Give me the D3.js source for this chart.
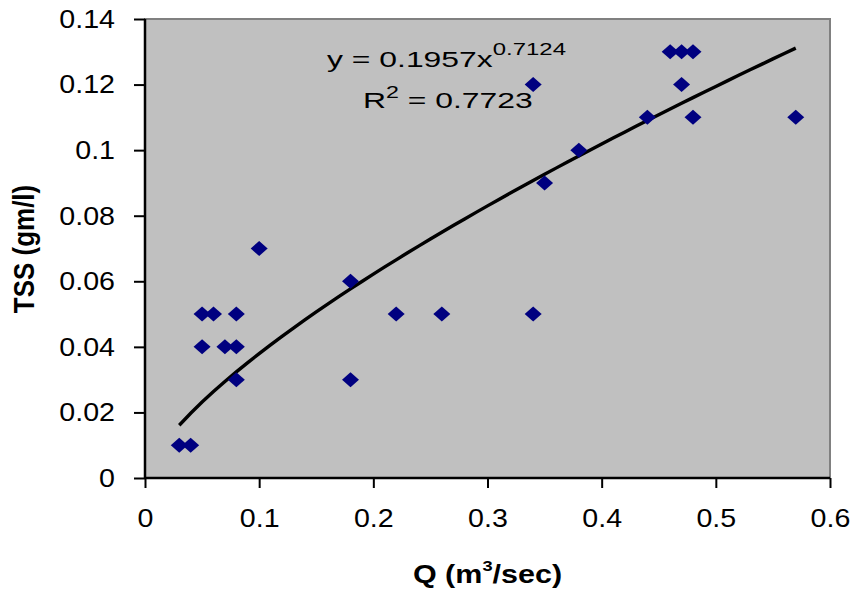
<!DOCTYPE html>
<html>
<head>
<meta charset="utf-8">
<script src="https://cdn.jsdelivr.net/npm/d3@7"></script>
<style>
  body { margin: 0; background: #ffffff; }
  text { font-family: "Liberation Sans", Arial, sans-serif; }
</style>
</head>
<body>
<div id="chart"></div>
<script>
// data
var qValues = [0.03, 0.04, 0.05, 0.06, 0.08, 0.05, 0.07, 0.08, 0.08, 0.10, 0.18, 0.18, 0.22, 0.26,
               0.34, 0.34, 0.35, 0.38, 0.44, 0.46, 0.47, 0.48, 0.47, 0.48, 0.57];
var tssValues = [0.01, 0.01, 0.05, 0.05, 0.05, 0.04, 0.04, 0.04, 0.03, 0.07, 0.06, 0.03, 0.05, 0.05,
                 0.05, 0.12, 0.09, 0.10, 0.11, 0.13, 0.13, 0.13, 0.12, 0.11, 0.11];
var xTicks = [0, 0.1, 0.2, 0.3, 0.4, 0.5, 0.6];
var yTicks = [0, 0.02, 0.04, 0.06, 0.08, 0.1, 0.12, 0.14];

// power trendline from the chart: y = a * x^b
var trendA = 0.1957;
var trendB = 0.7124;
var trendR2 = "0.7723";

var svgWidth = 856;
var svgHeight = 590;
var margin = { top: 19, right: 26, bottom: 112, left: 145 };
var width = svgWidth - margin.left - margin.right;
var height = svgHeight - margin.top - margin.bottom;

// the source picture is a little wide, so text gets stretched sideways
var stretch = 1.1;

var svg = d3.select("#chart")
  .append("svg")
  .attr("width", svgWidth)
  .attr("height", svgHeight);

var chartGroup = svg.append("g")
  .attr("transform", `translate(${margin.left}, ${margin.top})`);

var xScale = d3.scaleLinear().domain([0, 0.6]).range([0, width]);
var yScale = d3.scaleLinear().domain([0, 0.14]).range([height, 0]);

// plot area
chartGroup.append("rect")
  .attr("x", 0)
  .attr("y", 0)
  .attr("width", width)
  .attr("height", height)
  .attr("fill", "#c0c0c0")
  .attr("stroke", "#808080")
  .attr("stroke-width", 2);

// axes
var bottomAxis = d3.axisBottom(xScale)
  .tickValues(xTicks)
  .tickSize(10)
  .tickPadding(21)
  .tickFormat(d3.format("~g"));
var leftAxis = d3.axisLeft(yScale)
  .tickValues(yTicks)
  .tickSize(11)
  .tickFormat(d3.format("~g"));

var xAxis = chartGroup.append("g")
  .attr("transform", `translate(0, ${height})`)
  .call(bottomAxis);
var yAxis = chartGroup.append("g")
  .call(leftAxis);

[xAxis, yAxis].forEach(function(ax) {
  ax.attr("font-size", null).attr("font-family", null);
  ax.select(".domain").attr("stroke", "#000").attr("stroke-width", 2.5);
  ax.selectAll(".tick line").attr("stroke", "#000").attr("stroke-width", 2);
  ax.selectAll(".tick text")
    .attr("fill", "#000")
    .attr("font-size", "26px");
});
xAxis.select(".domain").attr("d", `M0,0H${width}`);
yAxis.select(".domain").attr("d", `M0,0V${height}`);

xAxis.selectAll(".tick text")
  .attr("transform", `scale(${stretch}, 1)`);
yAxis.selectAll(".tick text")
  .attr("x", 0)
  .attr("transform", `translate(-30, 0) scale(${stretch}, 1)`);

// trendline
var trendX = d3.range(0, 55).map(function(i) { return d3.min(qValues) + i * 0.01; });
var line = d3.line()
  .x(d => xScale(d))
  .y(d => yScale(trendA * Math.pow(d, trendB)));
chartGroup.append("path")
  .datum(trendX.filter(d => d <= d3.max(qValues) + 1e-9))
  .attr("d", line)
  .attr("fill", "none")
  .attr("stroke", "#000")
  .attr("stroke-width", 3.4);

// points
var points = qValues.map((q, i) => ({ q: q, tss: tssValues[i] }));
var diamond = "M0,-7.5L8.5,0L0,7.5L-8.5,0Z";
chartGroup.selectAll(".pt")
  .data(points)
  .enter()
  .append("path")
  .attr("class", "pt")
  .attr("d", diamond)
  .attr("transform", d => `translate(${xScale(d.q)}, ${yScale(d.tss)})`)
  .attr("fill", "#000080");

// equation labels
var eq = svg.append("text")
  .attr("transform", "translate(327, 67) scale(1.45, 1)")
  .attr("font-size", "22px")
  .attr("fill", "#000");
eq.append("tspan").text("y = " + trendA + "x");
eq.append("tspan").attr("dy", -12).attr("font-size", "16.5px").text(trendB);

var r2 = svg.append("text")
  .attr("transform", "translate(363, 108) scale(1.45, 1)")
  .attr("font-size", "22px")
  .attr("fill", "#000");
r2.append("tspan").text("R");
r2.append("tspan").attr("dy", -10).attr("font-size", "16px").text("2");
r2.append("tspan").attr("dy", 10).text(" = " + trendR2);

// axis titles
svg.append("text")
  .attr("transform", `translate(${margin.left + width / 2}, 583) scale(1.22, 1)`)
  .attr("text-anchor", "middle")
  .attr("font-size", "25px")
  .attr("font-weight", "bold")
  .attr("fill", "#000")
  .call(function(t) {
    t.append("tspan").text("Q (m");
    t.append("tspan").attr("dy", -12).attr("font-size", "15px").text("3");
    t.append("tspan").attr("dy", 12).text("/sec)");
  });

svg.append("text")
  .attr("transform", `translate(34, ${margin.top + 230}) rotate(-90) scale(1, 1.15)`)
  .attr("text-anchor", "middle")
  .attr("font-size", "26px")
  .attr("font-weight", "bold")
  .attr("fill", "#000")
  .text("TSS (gm/l)");
</script>
</body>
</html>
